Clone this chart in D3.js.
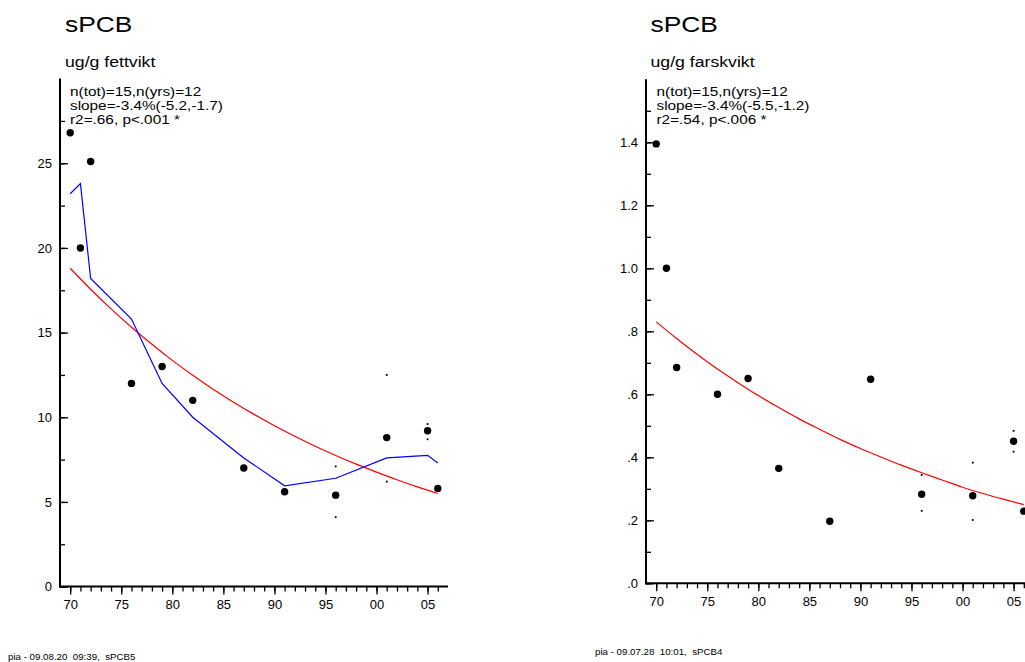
<!DOCTYPE html>
<html>
<head>
<meta charset="utf-8">
<script src="https://cdn.jsdelivr.net/npm/d3@7"></script>
<style>
  html, body { margin: 0; padding: 0; background: #fff; }
  svg { display: block; }
  text { font-family: "Liberation Sans", Arial, sans-serif; fill: #000; }
</style>
</head>
<body>
<svg id="chart" width="1025" height="662"></svg>
<script>
// ---------- data ----------
const years = [1970, 1971, 1972, 1976, 1979, 1982, 1987, 1991, 1996, 2001, 2005, 2006];

// left panel: ug/g fettvikt
const fatMean   = [26.8, 20.0, 25.1, 12.0, 13.0, 11.0, 7.0, 5.6, 5.4, 8.8, 9.2, 5.8];
const fatSmooth = [23.2, 23.8, 18.2, 15.8, 12.0, 10.0, 7.6, 5.95, 6.4, 7.6, 7.75, 7.3];
const extraYears = [1996, 1996, 2001, 2001, 2005, 2005];
const fatExtra  = [7.1, 4.1, 12.5, 6.2, 9.6, 8.7];
const trendYears = [1970, 1972, 1974, 1976, 1978, 1980, 1982, 1984, 1986, 1988, 1990, 1992, 1994, 1996, 1998, 2000, 2002, 2004, 2006];
const fatTrend  = [18.8, 17.56, 16.40, 15.32, 14.31, 13.36, 12.48, 11.66, 10.89, 10.17, 9.50, 8.88, 8.29, 7.74, 7.23, 6.76, 6.31, 5.89, 5.50];

// right panel: ug/g farskvikt
const wetMean   = [1.395, 1.0, 0.685, 0.60, 0.65, 0.365, 0.197, 0.648, 0.2825, 0.278, 0.451, 0.229];
const wetExtra  = [0.344, 0.23, 0.383, 0.201, 0.484, 0.418];
const wetTrend  = [0.830, 0.777, 0.727, 0.680, 0.637, 0.596, 0.558, 0.522, 0.489, 0.457, 0.428, 0.401, 0.375, 0.351, 0.328, 0.305, 0.285, 0.267, 0.250];

// tick labels
const xMajor = [1970, 1975, 1980, 1985, 1990, 1995, 2000, 2005];
const xLabels = ["70", "75", "80", "85", "90", "95", "00", "05"];
const fatYMajor = [0, 5, 10, 15, 20, 25];
const fatYLabels = ["0", "5", "10", "15", "20", "25"];
const wetYMajor = [0, 0.2, 0.4, 0.6, 0.8, 1.0, 1.2, 1.4];
const wetYLabels = [".0", ".2", ".4", ".6", ".8", "1.0", "1.2", "1.4"];

const panels = [
  {
    title: "sPCB", unit: "ug/g fettvikt",
    stats: ["n(tot)=15,n(yrs)=12", "slope=-3.4%(-5.2,-1.7)", "r2=.66, p<.001 *"],
    footer: "pia - 09.08.20  09:39,  sPCB5",
    mean: fatMean, smooth: fatSmooth, extra: fatExtra, trend: fatTrend,
    yDomain: [0, 30], yMajor: fatYMajor, yLabels: fatYLabels, yMinorStep: 2.5, yMinorMax: 27.5,
    x0: 60, x1: 448, yTop: 78.6, yBot: 586.6,
    titleX: 65, statX: 70, footerX: 8, footerY: 659.5
  },
  {
    title: "sPCB", unit: "ug/g farskvikt",
    stats: ["n(tot)=15,n(yrs)=12", "slope=-3.4%(-5.5,-1.2)", "r2=.54, p<.006 *"],
    footer: "pia - 09.07.28  10:01,  sPCB4",
    mean: wetMean, smooth: null, extra: wetExtra, trend: wetTrend,
    yDomain: [0, 1.6], yMajor: wetYMajor, yLabels: wetYLabels, yMinorStep: 0.1, yMinorMax: 1.5,
    x0: 646, x1: 1034, yTop: 79.3, yBot: 583.3,
    titleX: 650.5, statX: 656.5, footerX: 595, footerY: 655
  }
];

const svg = d3.select("#chart");

function stretchedText(g, x, y, txt, size, sx) {
  return g.append("text")
    .attr("transform", `translate(${x},${y}) scale(${sx},1)`)
    .attr("font-size", size)
    .style("white-space", "pre")
    .attr("xml:space", "preserve")
    .text(txt);
}

panels.forEach(p => {
  const g = svg.append("g");
  const x = d3.scaleLinear().domain([1969, 2007]).range([p.x0, p.x1]);
  const y = d3.scaleLinear().domain(p.yDomain).range([p.yBot, p.yTop]);

  // titles
  stretchedText(g, p.titleX, 32.3, p.title, 22, 1.2);
  stretchedText(g, p.titleX, 66.5, p.unit, 14.5, 1.22);
  p.stats.forEach((s, i) => stretchedText(g, p.statX, 95.7 + i * 14.2, s, 13, 1.18));

  // footer
  stretchedText(g, p.footerX, p.footerY, p.footer, 9, 1.08);

  // y axis minor ticks
  const yMinor = d3.range(0, p.yMinorMax + p.yMinorStep / 2, p.yMinorStep);
  const yMinorAxis = d3.axisLeft(y).tickValues(yMinor).tickSize(-5).tickFormat("");
  const gyMinor = g.append("g").attr("transform", `translate(${p.x0},0)`).call(yMinorAxis);
  gyMinor.select(".domain").remove();
  gyMinor.selectAll("line").attr("stroke", "#000").attr("stroke-width", 1.3);

  const yMajorAxis = d3.axisLeft(y).tickValues(p.yMajor).tickSize(-8).tickPadding(8)
    .tickFormat((d, i) => p.yLabels[i]);
  const gy = g.append("g").attr("transform", `translate(${p.x0},0)`).call(yMajorAxis);
  gy.select(".domain").remove();
  gy.selectAll("line").attr("stroke", "#000").attr("stroke-width", 1.3);
  gy.selectAll("text").attr("font-size", 13).attr("font-family", "Liberation Sans, Arial, sans-serif")
    .attr("fill", "#000");

  // x axis minor ticks
  const xMinor = d3.range(1970, 2007);
  const xMinorAxis = d3.axisBottom(x).tickValues(xMinor).tickSize(5).tickFormat("");
  const gxMinor = g.append("g").attr("transform", `translate(0,${p.yBot})`).call(xMinorAxis);
  gxMinor.select(".domain").remove();
  gxMinor.selectAll("line").attr("stroke", "#000").attr("stroke-width", 1.3);

  const xMajorAxis = d3.axisBottom(x).tickValues(xMajor).tickSize(8).tickPadding(5)
    .tickFormat((d, i) => xLabels[i]);
  const gx = g.append("g").attr("transform", `translate(0,${p.yBot})`).call(xMajorAxis);
  gx.select(".domain").remove();
  gx.selectAll("line").attr("stroke", "#000").attr("stroke-width", 1.3);
  gx.selectAll("text").attr("font-size", 13).attr("font-family", "Liberation Sans, Arial, sans-serif").attr("fill", "#000");

  // axis lines
  g.append("line").attr("x1", p.x0).attr("x2", p.x0).attr("y1", p.yTop).attr("y2", p.yBot + 1)
    .attr("stroke", "#000").attr("stroke-width", 2);
  g.append("line").attr("x1", p.x0 - 1).attr("x2", p.x1).attr("y1", p.yBot).attr("y2", p.yBot)
    .attr("stroke", "#000").attr("stroke-width", 2);

  // trend (red)
  const trendLine = d3.line().x((d, i) => x(trendYears[i])).y(d => y(d)).curve(d3.curveMonotoneX);
  g.append("path").datum(p.trend).attr("d", trendLine)
    .attr("fill", "none").attr("stroke", "#ff0000").attr("stroke-width", 1.2);

  // smoother (blue)
  if (p.smooth) {
    const smLine = d3.line().x((d, i) => x(years[i])).y(d => y(d));
    g.append("path").datum(p.smooth).attr("d", smLine)
      .attr("fill", "none").attr("stroke", "#0000ff").attr("stroke-width", 1.2);
  }

  // individual extra values (small dots)
  g.selectAll("rect.extra").data(p.extra).enter().append("rect")
    .attr("class", "extra")
    .attr("x", (d, i) => x(extraYears[i]) - 0.9)
    .attr("y", d => y(d) - 0.9)
    .attr("width", 1.8).attr("height", 1.8)
    .attr("fill", "#000");

  // mean dots
  g.selectAll("circle.mean").data(p.mean).enter().append("circle")
    .attr("class", "mean")
    .attr("cx", (d, i) => x(years[i]))
    .attr("cy", d => y(d))
    .attr("r", 3.7)
    .attr("fill", "#000");
});
</script>
</body>
</html>
